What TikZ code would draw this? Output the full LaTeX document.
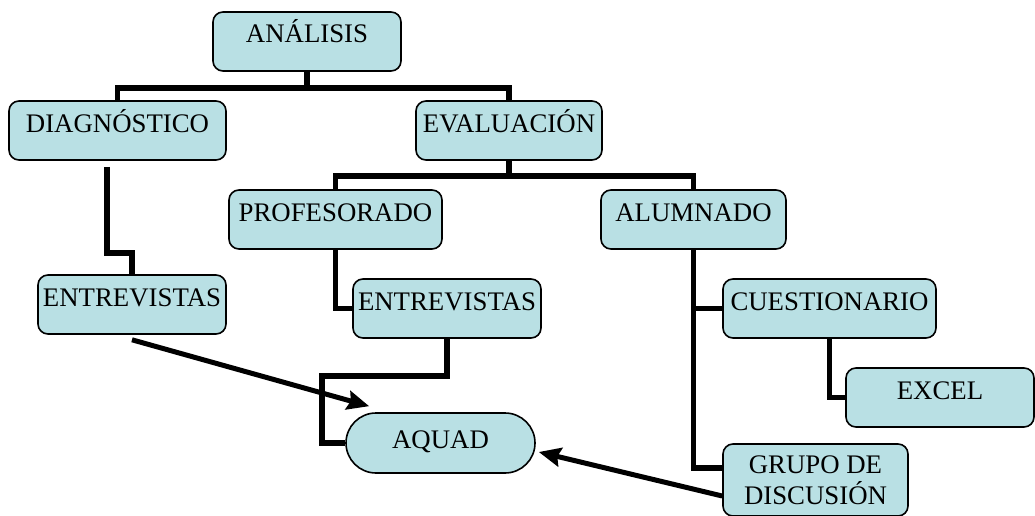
\documentclass[tikz,border=0pt]{standalone}
\usepackage{fontspec}
\setmainfont{Liberation Serif}
\usepackage{xcolor}
\usepackage{tikz}
\usetikzlibrary{arrows.meta,calc}
\definecolor{boxfill}{RGB}{185,224,228}

\begin{document}
\begin{tikzpicture}[
    x=1pt, y=-1pt,
    concept/.style={rectangle, draw, rounded corners=10pt, line width=1.6pt, fill=boxfill, align=center, inner xsep=2pt, font=\fontsize{26.8}{31}\selectfont},
    item/.style={concept, minimum height=59pt, text height=26pt, text depth=23pt, inner ysep=5pt},
    tool/.style={concept, rounded corners=30pt, minimum height=60pt, text height=27pt, text depth=17pt, inner ysep=8pt},
    link/.style={line width=5.5pt},
    arrow/.style={-{Stealth[length=22pt,width=19pt,inset=3pt]}, line width=5pt}
]
\useasboundingbox (0,0) rectangle (1035,516);
\node[item, minimum width=188pt] (analisis) at (307,41.5) {ANÁLISIS};
\node[item, minimum width=217pt] (diag) at (117.5,130.5) {DIAGNÓSTICO};
\node[item, minimum width=186pt] (eval) at (509,130.5) {EVALUACIÓN};
\node[item, minimum width=213pt] (prof) at (335.5,219.5) {PROFESORADO};
\node[item, minimum width=185pt] (alum) at (693.5,219.5) {ALUMNADO};
\node[item, minimum width=188pt] (entdiag) at (132,304.5) {ENTREVISTAS};
\node[item, minimum width=188pt] (entprof) at (447,308.5) {ENTREVISTAS};
\node[item, minimum width=213pt] (cuest) at (829.5,308.5) {CUESTIONARIO};
\node[item, minimum width=188pt] (excel) at (940,397.5) {EXCEL};
\node[tool, minimum width=189pt] (aquad) at (440.5,443) {AQUAD};
\node[concept, minimum width=185pt, minimum height=72pt, inner ysep=4pt] (grupo) at (815.5,480) {GRUPO DE\\DISCUSIÓN};
\coordinate (bus1) at (307,88);
\coordinate (bus2) at (509,176);
\coordinate (bend) at (322,376);
% tree links
\draw[link] (analisis.south) -- (bus1) -| (diag.north);
\draw[link] (bus1) -| (eval.north);
\draw[link] (eval.south) -- (bus2) -| (prof.north);
\draw[link] (bus2) -| (alum.north);
\draw[link] ([xshift=-10.5pt, yshift=-6pt]diag.south) -- ++(0,86) -| (entdiag.north);
\draw[link] (prof.south) |- (entprof.west);
\draw[link] (entprof.south) |- (bend) |- (aquad.west);
\draw[link] (alum.south) |- ([yshift=12pt]grupo.west);
\draw[link] (alum.south |- cuest.west) -- (cuest.west);
\draw[link] (cuest.south) |- (excel.west);
% arrows into AQUAD
\draw[arrow] ([yshift=-5pt]entdiag.south) -- ([shift={(24,-6)}]aquad.north west);
\draw[arrow] ([yshift=-16pt]grupo.west) -- ([shift={(3,9)}]aquad.east);
\end{tikzpicture}
\end{document}
